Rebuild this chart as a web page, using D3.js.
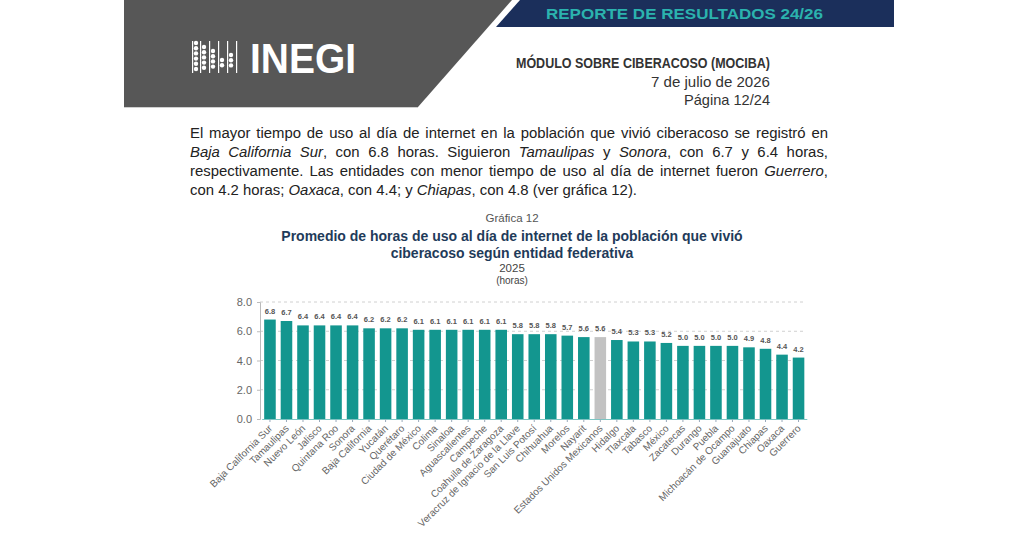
<!DOCTYPE html>
<html><head><meta charset="utf-8">
<script src="https://cdn.jsdelivr.net/npm/d3@7/dist/d3.min.js"></script>
<style>
html,body{margin:0;padding:0;background:#fff;}
svg{display:block;font-family:"Liberation Sans",Arial,sans-serif;}
</style></head>
<body>
<svg id="c" width="1024" height="538"></svg>
<script>
const categories = ["Baja California Sur","Tamaulipas","Nuevo León","Jalisco","Quintana Roo","Sonora","Baja California","Yucatán","Querétaro","Ciudad de México","Colima","Sinaloa","Aguascalientes","Campeche","Coahuila de Zaragoza","Veracruz de Ignacio de la Llave","San Luis Potosí","Chihuahua","Morelos","Nayarit","Estados Unidos Mexicanos","Hidalgo","Tlaxcala","Tabasco","México","Zacatecas","Durango","Puebla","Michoacán de Ocampo","Guanajuato","Chiapas","Oaxaca","Guerrero"];
const values = [6.8,6.7,6.4,6.4,6.4,6.4,6.2,6.2,6.2,6.1,6.1,6.1,6.1,6.1,6.1,5.8,5.8,5.8,5.7,5.6,5.6,5.4,5.3,5.3,5.2,5.0,5.0,5.0,5.0,4.9,4.8,4.4,4.2];
const nationalCategory = "Estados Unidos Mexicanos";
const yTicks = [0,2,4,6,8];
const headerBand = "REPORTE DE RESULTADOS 24/26";
const headerLines = ["MÓDULO SOBRE CIBERACOSO (MOCIBA)","7 de julio de 2026","Página 12/24"];
const paragraph = [
  [{t:"El mayor tiempo de uso al día de internet en la población que vivió ciberacoso se registró en"}],
  [{t:"Baja California Sur",i:1},{t:", con 6.8 horas. Siguieron "},{t:"Tamaulipas",i:1},{t:" y "},{t:"Sonora",i:1},{t:", con 6.7 y 6.4 horas,"}],
  [{t:"respectivamente. Las entidades con menor tiempo de uso al día de internet fueron "},{t:"Guerrero",i:1},{t:","}],
  [{t:"con 4.2 horas; "},{t:"Oaxaca",i:1},{t:", con 4.4; y "},{t:"Chiapas",i:1},{t:", con 4.8 (ver gráfica 12)."}]
];
const chartTitle = ["Gráfica 12","Promedio de horas de uso al día de internet de la población que vivió","ciberacoso según entidad federativa","2025","(horas)"];

const svg = d3.select("#c");

// ---- header ----
svg.append("path").attr("d","M124,0 L512,0 L418,107 L124,107 Z").attr("fill","#575757");
svg.append("line").attr("x1",124).attr("x2",418).attr("y1",107.5).attr("y2",107.5).attr("stroke","#cfcfcf").attr("stroke-width",1);
svg.append("path").attr("d","M520,0 L894,0 L894,27 L496,27 Z").attr("fill","#1b2f5b");
svg.append("text").attr("x",546).attr("y",19).attr("font-size",15).attr("font-weight","bold")
  .attr("fill","#2bb3ae").attr("textLength",277).attr("lengthAdjust","spacingAndGlyphs").text(headerBand);

// logo
const logo = svg.append("g").attr("fill","#fff");
const cols = [{x:196,top:43},{x:204,top:47},{x:213,top:51},{x:222,top:60},{x:231,top:55},{x:240,top:42}];
cols.forEach((c,i)=>{
  logo.append("rect").attr("x",c.x-4).attr("y",41).attr("width",1.2).attr("height",32);
  if(i<5){
    for(let y=c.top;y<=70;y+=5.2){
      logo.append("circle").attr("cx",c.x).attr("cy",y).attr("r",2.2);
    }
  }
});
logo.append("text").attr("x",250).attr("y",73).attr("font-size",42).attr("font-weight","bold")
  .attr("textLength",106).attr("lengthAdjust","spacingAndGlyphs").text("INEGI");

const hl = [{y:68,w:254,b:1},{y:87,w:119,b:0},{y:105,w:86,b:0}];
headerLines.forEach((t,i)=>{
  svg.append("text").attr("x",770).attr("y",hl[i].y).attr("text-anchor","end")
    .attr("font-size",15).attr("font-weight",hl[i].b?"bold":"normal").attr("fill","#333")
    .attr("textLength",hl[i].w).attr("lengthAdjust","spacingAndGlyphs").text(t);
});

// ---- paragraph (justified) ----
const pX0 = 190, pX1 = 828, pY = [138,157,176,195];
paragraph.forEach((line,li)=>{
  const tx = svg.append("text").attr("x",pX0).attr("y",pY[li]).attr("font-size",14.9).attr("fill","#222");
  line.forEach(s=>tx.append("tspan").attr("font-style",s.i?"italic":"normal").text(s.t));
  if(li<3){
    const w = tx.node().getComputedTextLength();
    const full = line.map(s=>s.t).join("");
    const n = (full.match(/ /g)||[]).length;
    if(n>0) tx.style("word-spacing",((pX1-pX0-w)/n)+"px");
  }
});

// ---- chart titles ----
svg.append("text").attr("x",512).attr("y",222).attr("text-anchor","middle").attr("font-size",11.5).attr("fill","#555").text(chartTitle[0]);
svg.append("text").attr("x",512).attr("y",241).attr("text-anchor","middle").attr("font-size",14).attr("font-weight","bold").attr("fill","#1f3b5a").text(chartTitle[1]);
svg.append("text").attr("x",512).attr("y",258).attr("text-anchor","middle").attr("font-size",14).attr("font-weight","bold").attr("fill","#1f3b5a").text(chartTitle[2]);
svg.append("text").attr("x",512).attr("y",272).attr("text-anchor","middle").attr("font-size",11.5).attr("fill","#444").text(chartTitle[3]);
svg.append("text").attr("x",512).attr("y",284).attr("text-anchor","middle").attr("font-size",10).attr("fill","#444").text(chartTitle[4]);

// ---- chart ----
const x = d3.scaleBand().domain(categories).range([261.7,806.8]).paddingInner(0.3).paddingOuter(0.15);
const y = d3.scaleLinear().domain([0,8]).range([419,302]);

const grid = svg.append("g");
yTicks.filter(t=>t>0).forEach(t=>{
  grid.append("line").attr("x1",260).attr("x2",806).attr("y1",y(t)).attr("y2",y(t))
    .attr("stroke","#d0d0d0").attr("stroke-dasharray","3,3").attr("stroke-width",1);
});

const yAxis = svg.append("g").attr("transform","translate(260,0)")
  .call(d3.axisLeft(y).tickValues(yTicks).tickFormat(d3.format(".1f")).tickSize(3).tickPadding(5));
yAxis.select(".domain").attr("stroke","#bbb");
yAxis.selectAll(".tick line").attr("stroke","#bbb");
yAxis.selectAll("text").attr("font-size",11).attr("fill","#666").attr("font-family","Liberation Sans, Arial, sans-serif");

const data = categories.map((c,i)=>({c,v:values[i]}));
svg.append("g").selectAll("rect").data(data).join("rect")
  .attr("x",d=>x(d.c)).attr("width",x.bandwidth())
  .attr("y",d=>y(d.v)).attr("height",d=>y(0)-y(d.v))
  .attr("fill",d=>d.c===nationalCategory?"#c2c2c2":"#13968f");

svg.append("g").selectAll("text").data(data).join("text")
  .attr("x",d=>x(d.c)+x.bandwidth()/2).attr("y",d=>y(d.v)-6)
  .attr("text-anchor","middle").attr("font-size",7.5).attr("font-weight","bold").attr("fill","#555")
  .text(d=>d3.format(".1f")(d.v));

const xAxis = svg.append("g").attr("transform","translate(0,419)")
  .call(d3.axisBottom(x).tickSize(3).tickSizeOuter(0));
xAxis.select(".domain").attr("stroke","#7cc6c3");
xAxis.selectAll(".tick line").attr("stroke","#9ab");
xAxis.selectAll("text").attr("font-size",10).attr("fill","#666").attr("font-family","Liberation Sans, Arial, sans-serif")
  .attr("text-anchor","end").attr("dy",0).attr("dx",0).attr("y",0)
  .attr("transform","translate(3,10) rotate(-45)");
</script>
</body></html>
